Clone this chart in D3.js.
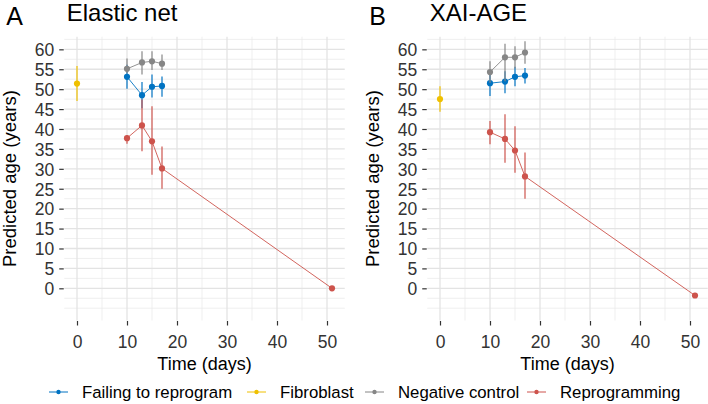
<!DOCTYPE html>
<html><head><meta charset="utf-8">
<script src="https://cdn.jsdelivr.net/npm/d3@7"></script>
<style>body{margin:0;background:#fff}svg{display:block;font-family:"Liberation Sans",Arial,sans-serif}</style>
</head><body><svg id="c" width="708" height="404"></svg>
<script>
// ---- data ----
const groups = ["Failing to reprogram","Fibroblast","Negative control","Reprogramming"];
const colors = ["#0073C2","#EFC000","#868686","#CD534C"];
const panelTitles = ["Elastic net","XAI-AGE"];
const panelLetters = ["A","B"];
const xTicks = [0,10,20,30,40,50];
const yTicks = [0,5,10,15,20,25,30,35,40,45,50,55,60];

const daysMid = [10,13,15,17];
const daysRep = [10,13,15,17,51];
const daysFib = [0];

// Panel A (Elastic net)
const failA = [53.1,48.5,50.6,50.8], failA_lo = [50.1,45.2,47.9,48.1], failA_hi = [56.1,51.8,53.7,53.2];
const fibA = [51.4], fibA_lo = [47.0], fibA_hi = [55.8];
const negA = [55.1,56.7,57.0,56.4], negA_lo = [54.0,53.7,54.8,54.8], negA_hi = [57.7,59.5,59.5,58.7];
const repA = [37.7,40.9,36.9,30.1,0.0], repA_lo = [36.3,34.4,28.5,25.0,null], repA_hi = [38.4,47.4,45.7,35.6,null];

// Panel B (XAI-AGE)
const failB = [51.5,51.9,53.1,53.4], failB_lo = [48.3,49.0,50.7,51.4], failB_hi = [54.7,54.5,55.6,55.3];
const fibB = [47.5], fibB_lo = [44.3], fibB_hi = [50.7];
const negB = [54.3,58.0,58.0,59.2], negB_lo = [51.6,52.0,55.2,56.4], negB_hi = [57.0,61.4,60.8,62.0];
const repB = [39.2,37.5,34.6,28.1,-1.8], repB_lo = [36.2,31.5,29.0,22.5,null], repB_hi = [42.0,43.7,40.7,34.1,null];

function series(days, v, lo, hi){ return days.map((d,i)=>({x:d,y:v[i],lo:lo[i],hi:hi[i]})); }
const panels = [
  [series(daysMid,failA,failA_lo,failA_hi), series(daysFib,fibA,fibA_lo,fibA_hi), series(daysMid,negA,negA_lo,negA_hi), series(daysRep,repA,repA_lo,repA_hi)],
  [series(daysMid,failB,failB_lo,failB_hi), series(daysFib,fibB,fibB_lo,fibB_hi), series(daysMid,negB,negB_lo,negB_hi), series(daysRep,repB,repB_lo,repB_hi)]
];

// ---- layout ----
const svg = d3.select("#c");
const panelLeft = [64.25, 427.25];
const plotTop = 36.7, plotBottom = 320.5, plotW = 280.5;
const xDomain = [-2.55, 53.55], yDomain = [-8.08, 63.17];
const fs = 17.5;

panels.forEach((data, p) => {
  const x = d3.scaleLinear().domain(xDomain).range([panelLeft[p], panelLeft[p]+plotW]);
  const y = d3.scaleLinear().domain(yDomain).range([plotBottom, plotTop]);
  const g = svg.append("g");

  // minor grid
  const yMinor = d3.range(-5, 63, 2.5).filter(v => v % 5 !== 0 || v < 0);
  g.selectAll(".ymin").data(yMinor).join("line")
    .attr("x1", x.range()[0]).attr("x2", x.range()[1])
    .attr("y1", d=>y(d)).attr("y2", d=>y(d))
    .attr("stroke","#EBEBEB").attr("stroke-width",0.8);
  g.selectAll(".xmin").data(d3.range(5,50,10)).join("line")
    .attr("y1", plotTop).attr("y2", plotBottom)
    .attr("x1", d=>x(d)).attr("x2", d=>x(d))
    .attr("stroke","#EBEBEB").attr("stroke-width",0.8);
  // major grid
  g.selectAll(".ymaj").data(yTicks).join("line")
    .attr("x1", x.range()[0]).attr("x2", x.range()[1])
    .attr("y1", d=>y(d)).attr("y2", d=>y(d))
    .attr("stroke","#E3E3E3").attr("stroke-width",1.3);
  g.selectAll(".xmaj").data(xTicks).join("line")
    .attr("y1", plotTop).attr("y2", plotBottom)
    .attr("x1", d=>x(d)).attr("x2", d=>x(d))
    .attr("stroke","#E3E3E3").attr("stroke-width",1.3);

  // axes
  const xa = g.append("g").attr("transform", `translate(0,${plotBottom+0.5})`)
    .call(d3.axisBottom(x).tickValues(xTicks).tickSize(4.5).tickPadding(6));
  const ya = g.append("g").attr("transform", `translate(${panelLeft[p]-0.5},0)`)
    .call(d3.axisLeft(y).tickValues(yTicks).tickSize(4.5).tickPadding(5));
  [xa, ya].forEach(a => {
    a.select(".domain").remove();
    a.selectAll(".tick line").attr("stroke","#333").attr("stroke-width",1.2);
    a.selectAll(".tick text").attr("fill","#333").style("font-size", fs+"px").style("font-family","Liberation Sans, Arial");
  });
  xa.selectAll(".tick text").attr("dy","0.92em");
  ya.selectAll(".tick text").attr("dy","0.36em");

  // axis titles
  g.append("text").attr("x", x(25.5)).attr("y", 370)
    .attr("text-anchor","middle").style("font-size","18px").attr("fill","#000").text("Time (days)");
  g.append("text").attr("transform", `translate(${panelLeft[p]-48},${(plotTop+plotBottom)/2}) rotate(-90)`)
    .attr("text-anchor","middle").style("font-size","18.5px").attr("fill","#000").text("Predicted age (years)");

  // titles
  g.append("text").attr("x", panelLeft[p]-58).attr("y", 24.5).style("font-size","25px").attr("fill","#000").text(panelLetters[p]);
  g.append("text").attr("x", panelLeft[p]+2.5).attr("y", 21).style("font-size","24px").attr("fill","#000").text(panelTitles[p]);

  // data
  const line = d3.line().x(d=>x(d.x)).y(d=>y(d.y));
  data.forEach((s, k) => {
    const c = colors[k];
    const sg = g.append("g");
    sg.selectAll(".eb").data(s.filter(d=>d.lo!=null)).join("line")
      .attr("x1", d=>x(d.x)).attr("x2", d=>x(d.x))
      .attr("y1", d=>y(d.lo)).attr("y2", d=>y(d.hi))
      .attr("stroke", c).attr("stroke-width",1.4).attr("stroke-opacity",0.85);
    if (s.length > 1) sg.append("path").datum(s).attr("d", line)
      .attr("fill","none").attr("stroke", c).attr("stroke-width",0.9);
    sg.selectAll(".pt").data(s).join("circle")
      .attr("cx", d=>x(d.x)).attr("cy", d=>y(d.y)).attr("r",3.1).attr("fill", c);
  });
});

// legend
const legX = [49, 247, 365, 527];
const lg = svg.append("g");
groups.forEach((name,i) => {
  const gx = legX[i], gy = 392;
  lg.append("line").attr("x1",gx).attr("x2",gx+19).attr("y1",gy).attr("y2",gy)
    .attr("stroke",colors[i]).attr("stroke-width",1);
  lg.append("circle").attr("cx",gx+9.5).attr("cy",gy).attr("r",2.2).attr("fill",colors[i]);
  lg.append("text").attr("x",gx+33).attr("y",gy+6).style("font-size","16.8px").attr("fill","#000").text(name);
});
</script></body></html>
